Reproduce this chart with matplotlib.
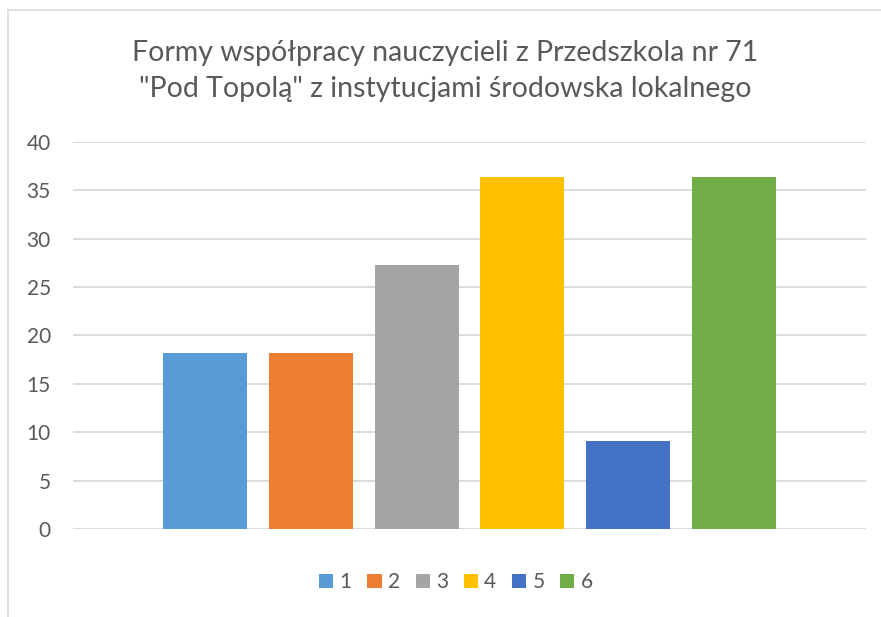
import matplotlib
matplotlib.use("Agg")
import matplotlib.pyplot as plt
from matplotlib.lines import Line2D
from matplotlib.patches import Patch

# data
series = ["1", "2", "3", "4", "5", "6"]
values = [18.18, 18.18, 27.27, 36.36, 9.09, 36.36]
colors = ["#5B9BD5", "#ED7D31", "#A5A5A5", "#FFC000", "#4472C4", "#70AD47"]
yticks = [0, 5, 10, 15, 20, 25, 30, 35, 40]
title = 'Formy współpracy nauczycieli z Przedszkola nr 71\n"Pod Topolą" z instytucjami środowska lokalnego'

plt.rcParams['font.family'] = ['Lato', 'DejaVu Sans']
txt = "#595959"
grid = "#D9D9D9"

W, H = 881, 617
fig = plt.figure(figsize=(W / 100, H / 100), dpi=100)

# chart frame (only left and top edges visible)
fig.add_artist(Line2D([8 / W, 8 / W], [0, 1 - 10 / H], color=grid, lw=1.2))
fig.add_artist(Line2D([8 / W, 1], [1 - 10 / H, 1 - 10 / H], color=grid, lw=1.2))

ax = fig.add_axes([73 / W, (H - 529) / H, 793 / W, (529 - 142) / H])
bw = 84 / 106
x = list(range(len(values)))
bars = ax.bar(x, values, width=bw, color=colors, zorder=3)

ax.set_ylim(0, 40)
ax.set_xlim(-bw / 2 - 90 / 106, len(values) - 1 + bw / 2 + 90 / 106)
ax.set_yticks(yticks)
ax.set_xticks([])
ax.tick_params(axis='y', length=0, pad=16, labelsize=15, labelcolor=txt)
ax.grid(axis='y', color=grid, lw=1.3, zorder=0)
for s in ax.spines.values():
    s.set_visible(False)

fig.text(445 / W, 1 - 71 / H, title, ha='center', va='center', fontsize=20.5,
         color=txt, linespacing=1.45)

handles = [Patch(facecolor=c, label=s) for c, s in zip(colors, series)]
fig.legend(handles=handles, loc='center', bbox_to_anchor=(456 / W, 1 - 582 / H),
           ncol=6, frameon=False, fontsize=15, labelcolor=txt,
           handlelength=0.68, handleheight=0.68, handletextpad=0.3, columnspacing=0.75)

fig.savefig("out.png", dpi=100, facecolor="white")
